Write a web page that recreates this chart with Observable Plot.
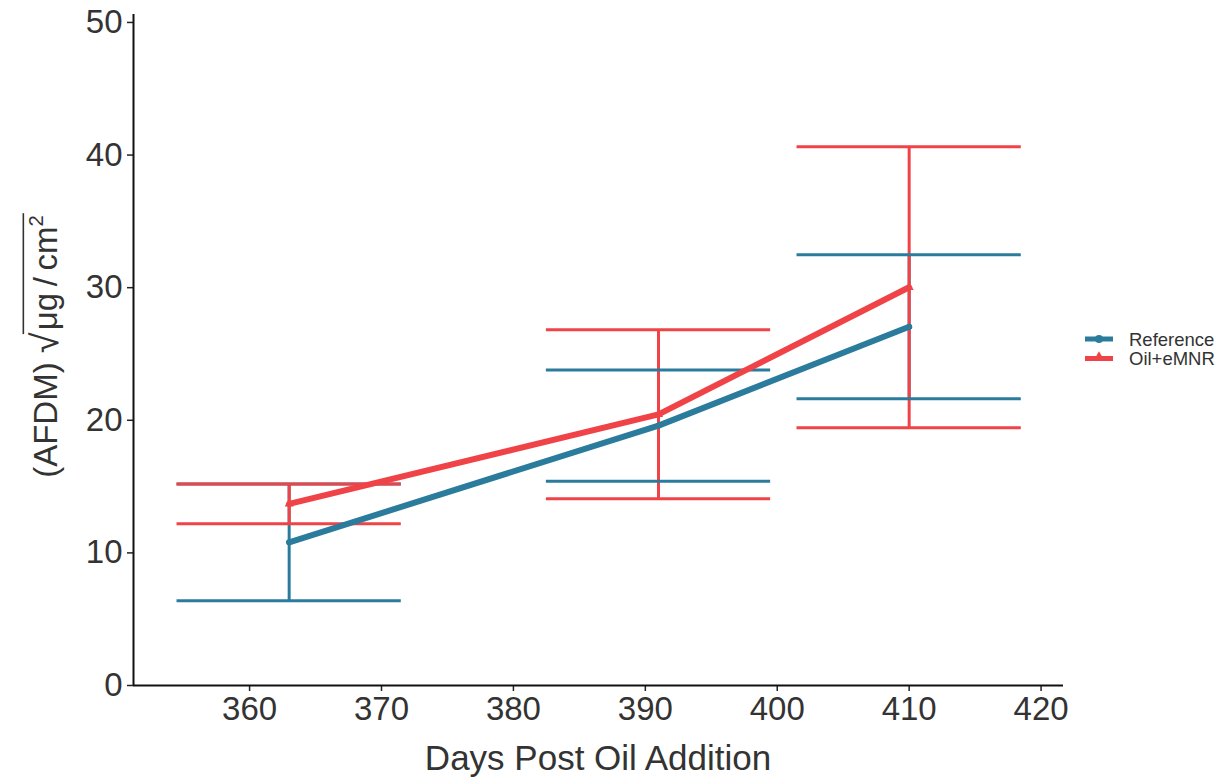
<!DOCTYPE html>
<html>
<head>
<meta charset="utf-8">
<script src="https://cdn.jsdelivr.net/npm/d3@7"></script>
<script src="https://cdn.jsdelivr.net/npm/@observablehq/plot@0.6"></script>
<style>
  html, body { margin: 0; padding: 0; background: #fff; }
  #chart { width: 1230px; height: 778px; }
  svg { font-family: "Liberation Sans", Arial, sans-serif; }
</style>
</head>
<body>
<div id="chart"></div>
<script>
// ---- data ----
const days = [363, 391, 410];
const refMean = [10.8, 19.6, 27.05];
const refSE = [4.4, 4.2, 5.43];
const oilMean = [13.7, 20.45, 30.03];
const oilSE = [1.5, 6.37, 10.6];
const seriesNames = ["Reference", "Oil+eMNR"];
const seriesColors = ["#2b7b9c", "#f04348"];
const xTicks = [360, 370, 380, 390, 400, 410, 420];
const yTicks = [0, 10, 20, 30, 40, 50];

const rows = [];
days.forEach((d, i) => {
  rows.push({series: seriesNames[0], day: d, mean: refMean[i], lo: refMean[i] - refSE[i], hi: refMean[i] + refSE[i]});
});
days.forEach((d, i) => {
  rows.push({series: seriesNames[1], day: d, mean: oilMean[i], lo: oilMean[i] - oilSE[i], hi: oilMean[i] + oilSE[i]});
});

const capHalf = 8.5;
const xDomain = [351.2, 421.7];
const yDomain = [0, 50.6];
const textColor = "#333333";

const plot = Plot.plot({
  width: 1230,
  height: 778,
  marginLeft: 133,
  marginRight: 167,
  marginTop: 14,
  marginBottom: 93,
  x: {domain: xDomain},
  y: {domain: yDomain},
  color: {domain: seriesNames, range: seriesColors},
  style: {fontFamily: "Liberation Sans, Arial, sans-serif", color: textColor, background: "white"},
  marks: [
    // error bars
    Plot.ruleX(rows, {x: "day", y1: "lo", y2: "hi", stroke: "series", strokeWidth: 3}),
    Plot.ruleY(rows, {y: "lo", x1: d => d.day - capHalf, x2: d => d.day + capHalf, stroke: "series", strokeWidth: 3}),
    Plot.ruleY(rows, {y: "hi", x1: d => d.day - capHalf, x2: d => d.day + capHalf, stroke: "series", strokeWidth: 3}),
    // lines
    Plot.line(rows, {x: "day", y: "mean", z: "series", stroke: "series", strokeWidth: 6}),
    Plot.dot(rows, {x: "day", y: "mean", fill: "series", symbol: d => d.series === seriesNames[0] ? "circle" : "triangle", r: d => d.series === seriesNames[0] ? 4 : 5}),
    // axes
    Plot.axisX({ticks: xTicks, tickSize: 6, tickPadding: 5, fontSize: 33, label: null, stroke: "#222", strokeWidth: 1.5}),
    Plot.axisY({ticks: yTicks, tickSize: 6, tickPadding: 5, fontSize: 33, label: null, stroke: "#222", strokeWidth: 1.5}),
    Plot.ruleX([xDomain[0]], {stroke: "#111", strokeWidth: 2}),
    Plot.ruleY([0], {stroke: "#111", strokeWidth: 2})
  ]
});

document.getElementById("chart").appendChild(plot);

const svg = d3.select(plot);
svg.selectAll("g[aria-label='x-axis tick label'], g[aria-label='y-axis tick label']")
  .attr("font-size", 33).attr("fill", textColor);
svg.selectAll("g[aria-label='x-axis tick label'] text, g[aria-label='y-axis tick label'] text")
  .attr("font-size", 33).attr("fill", textColor);

// x-axis title
svg.append("text")
  .attr("x", (133 + 1063) / 2)
  .attr("y", 770)
  .attr("text-anchor", "middle")
  .attr("font-size", 35)
  .attr("fill", textColor)
  .text("Days Post Oil Addition");

// y-axis title with radical
const g = svg.append("g").attr("transform", "translate(57,346) rotate(-90)");
const fs = 33;
const mk = (txt, size) => g.append("text").attr("text-anchor", "start").attr("font-size", size).attr("fill", textColor).text(txt);
const t1 = mk("(AFDM) ", fs);
const w1 = t1.node().getComputedTextLength();
const t2 = mk("√", fs * 1.15);
const w2 = t2.node().getComputedTextLength();
const t3 = mk("μg\u2009/\u2009cm", fs);
const w3 = t3.node().getComputedTextLength();
const t4 = mk("2", fs * 0.62);
const w4 = t4.node().getComputedTextLength();
const total = w1 + w2 + w3 + w4 + 3;
const x0 = -total / 2;
t1.attr("x", x0);
t2.attr("x", x0 + w1).attr("y", 1);
t3.attr("x", x0 + w1 + w2 + 2);
t4.attr("x", x0 + w1 + w2 + 2 + w3).attr("y", -fs * 0.42);
g.append("line")
  .attr("x1", x0 + w1 + w2 - 1.8)
  .attr("x2", x0 + total + 1)
  .attr("y1", -fs * 1.02)
  .attr("y2", -fs * 1.02)
  .attr("stroke", textColor)
  .attr("stroke-width", 1.6);

// legend
const leg = svg.append("g").attr("transform", "translate(1085,339)");
seriesNames.forEach((name, i) => {
  const y = i * 19.5;
  leg.append("line").attr("x1", 0).attr("x2", 28).attr("y1", y).attr("y2", y)
    .attr("stroke", seriesColors[i]).attr("stroke-width", 5);
  if (i === 0) {
    leg.append("circle").attr("cx", 14).attr("cy", y).attr("r", 4).attr("fill", seriesColors[i]);
  } else {
    leg.append("path").attr("d", d3.symbol(d3.symbolTriangle, 50)()).attr("transform", `translate(14,${y - 1})`).attr("fill", seriesColors[i]);
  }
  leg.append("text").attr("x", 44).attr("y", y + 6.5).attr("text-anchor", "start").attr("font-size", 18.5).attr("fill", textColor).text(name);
});
</script>
</body>
</html>
